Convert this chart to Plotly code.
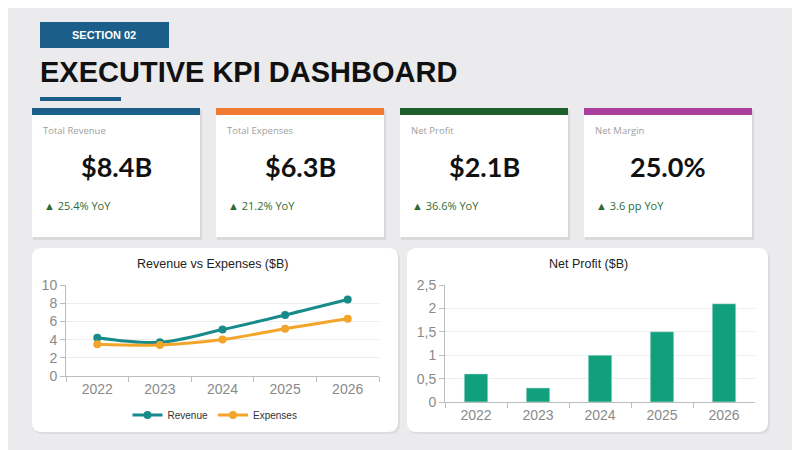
import plotly.graph_objects as go

# chart data
years = ["2022", "2023", "2024", "2025", "2026"]
revenue = [4.2, 3.7, 5.1, 6.7, 8.4]
expenses = [3.5, 3.4, 4.0, 5.2, 6.3]
net_profit = [0.6, 0.3, 1.0, 1.5, 2.1]

# kpi cards
kpi_labels = ["Total Revenue", "Total Expenses", "Net Profit", "Net Margin"]
kpi_values = ["$8.4B", "$6.3B", "$2.1B", "25.0%"]
kpi_changes = ["▲ 25.4% YoY", "▲ 21.2% YoY", "▲ 36.6% YoY", "▲ 3.6 pp YoY"]
kpi_colors = ["#1B5E8A", "#F07A32", "#1D5E2B", "#A8409C"]

W, H = 800, 450
OFF = 8  # page body margin, the figure sits 8px in from the corner
BG = "#EBEBED"
TEAL = "#178A8A"
ORANGE = "#F2A52A"
GREEN = "#11A07C"


def px(x):
    return (x - OFF) / W


def py(y):
    return 1 - (y - OFF) / H


shapes = []
annotations = []


def rect(x0, y0, x1, y1, color, layer="below"):
    shapes.append(dict(type="rect", xref="paper", yref="paper",
                       x0=px(x0), x1=px(x1), y0=py(y1), y1=py(y0),
                       fillcolor=color, line=dict(width=0), layer=layer))


def rounded(x0, y0, x1, y1, r, color):
    # rounded rectangle as a path in paper coords
    X0, X1 = px(x0), px(x1)
    Y0, Y1 = py(y1), py(y0)
    rx, ry = r / W, r / H
    path = (f"M {X0+rx},{Y0} L {X1-rx},{Y0} Q {X1},{Y0} {X1},{Y0+ry} "
            f"L {X1},{Y1-ry} Q {X1},{Y1} {X1-rx},{Y1} L {X0+rx},{Y1} "
            f"Q {X0},{Y1} {X0},{Y1-ry} L {X0},{Y0+ry} Q {X0},{Y0} {X0+rx},{Y0} Z")
    shapes.append(dict(type="path", xref="paper", yref="paper", path=path,
                       fillcolor=color, line=dict(width=0), layer="below"))


def text(x, y, s, size, color, family="Liberation Sans", xanchor="left", bold=False):
    annotations.append(dict(xref="paper", yref="paper", x=px(x), y=py(y),
                            text=f"<b>{s}</b>" if bold else s, showarrow=False,
                            xanchor=xanchor, yanchor="middle",
                            font=dict(size=size, color=color, family=family)))


# header
rect(40, 22, 169, 48, "#1B5E8A")
text(104, 35, "SECTION 02", 11, "white", xanchor="center", bold=True)
text(38, 72, "EXECUTIVE KPI DASHBOARD", 29, "#111111", bold=True)
rect(40, 97, 121, 101, "#1B5E8A")

# kpi cards
card_x = [32, 216, 400, 584]
for i, x0 in enumerate(card_x):
    x1 = x0 + 168
    rect(x0 + 1, 110, x1 + 2, 240, "#D9D9DC")
    rect(x0, 108, x1, 237, "white")
    rect(x0, 108, x1, 115, kpi_colors[i])
    text(x0 + 9, 131, kpi_labels[i], 9.5, "#A0A0A0", family="Open Sans")
    text(x0 + 84, 167, kpi_values[i], 27, "#111111", family="Lato", xanchor="center", bold=True)
    text(x0 + 10, 205, kpi_changes[i], 11, "#2E6B34", family="Open Sans")

# chart cards
rounded(33, 250, 400, 434, 10, "#DCDCDF")
rounded(408, 250, 770, 434, 10, "#DCDCDF")
rounded(32, 248, 398, 432, 10, "white")
rounded(407, 248, 768, 432, 10, "white")

text(213, 264, "Revenue vs Expenses ($B)", 12.5, "#222222", xanchor="center")
text(588, 264, "Net Profit ($B)", 12.5, "#222222", xanchor="center")

fig = go.Figure()

fig.add_trace(go.Scatter(x=years, y=revenue, name="Revenue", mode="lines+markers",
                         line=dict(color=TEAL, width=3, shape="spline"),
                         marker=dict(size=8, color=TEAL), xaxis="x", yaxis="y"))
fig.add_trace(go.Scatter(x=years, y=expenses, name="Expenses", mode="lines+markers",
                         line=dict(color=ORANGE, width=3, shape="spline"),
                         marker=dict(size=8, color=ORANGE), xaxis="x", yaxis="y"))
fig.add_trace(go.Bar(x=years, y=net_profit, name="Net Profit", marker_color=GREEN,
                     width=0.38, showlegend=False, xaxis="x2", yaxis="y2"))

tick_font = dict(size=14, color="#8A8A8A", family="Liberation Sans")
axis_common = dict(showline=True, linecolor="#BDBDBD", linewidth=1, ticks="outside",
                   tickcolor="#BDBDBD", ticklen=5, tickfont=tick_font, automargin=False)

fig.update_layout(
    width=W, height=H,
    margin=dict(l=0, r=0, t=0, b=0, pad=0),
    paper_bgcolor=BG, plot_bgcolor="rgba(0,0,0,0)",
    separators=",.",
    shapes=shapes, annotations=annotations,
    xaxis=dict(domain=[px(66), px(379)], type="category", tickson="boundaries",
               range=[-0.5, 4.5], showgrid=False, anchor="y", **axis_common),
    yaxis=dict(domain=[py(376), py(285)], range=[0, 10], dtick=2, showgrid=True,
               gridcolor="#EDEDED", zeroline=False, anchor="x", **axis_common),
    xaxis2=dict(domain=[px(445), px(755)], type="category", tickson="boundaries",
                range=[-0.5, 4.5], showgrid=False, anchor="y2", **axis_common),
    yaxis2=dict(domain=[py(402), py(285)], range=[0, 2.5], dtick=0.5, showgrid=True,
                gridcolor="#EDEDED", zeroline=False, anchor="x2", **axis_common),
    legend=dict(orientation="h", x=px(215), xanchor="center", y=py(415), yanchor="middle",
                font=dict(size=10, color="#333333", family="Liberation Sans"),
                bgcolor="rgba(0,0,0,0)"),
    showlegend=True,
)

fig.write_html("out.html")
